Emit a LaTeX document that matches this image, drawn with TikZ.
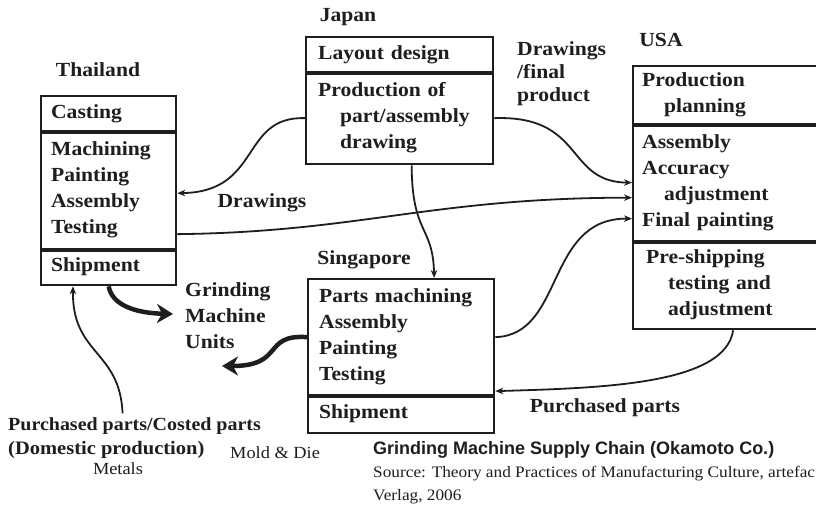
\documentclass[tikz,border=0pt]{standalone}
\usepackage{fontspec}
\setmainfont{Liberation Serif}[FakeStretch=1.08]
\newfontfamily\titlesans{Liberation Sans}
\usetikzlibrary{arrows.meta}
\definecolor{ink}{HTML}{1E1E1E}
\tikzset{
  sec/.style={draw=ink, line width=2.3pt, anchor=north west, inner xsep=10pt, inner ysep=0pt,
    align=left, text=ink, font=\bfseries\fontsize{20}{26}\selectfont},
  divider/.style={draw=ink, line width=3.8pt},
  lbl/.style={text=ink, inner sep=0pt, font=\bfseries\fontsize{20}{26}\selectfont},
  plain/.style={text=ink, inner sep=0pt},
  thinarrow/.style={draw=ink, line width=1.8pt, -{Stealth[length=8pt,width=6.5pt]}},
  thickarrow/.style={draw=ink, line width=4.5pt, -{Stealth[length=16pt,width=19pt,inset=5pt]}}
}
\begin{document}
\begin{tikzpicture}[x=1pt,y=-1pt]
\useasboundingbox (0,0) rectangle (816,513);
\clip (0,0) rectangle (816,513);
\fill[white] (0,0) rectangle (816,513);

% Thailand
\node[sec, text width=115pt, minimum height=35pt] (tcast) at (40,95) {Casting};
\node[sec, text width=115pt, minimum height=118pt] (tmid) at (40,130) {Machining\\Painting\\Assembly\\Testing};
\node[sec, text width=115pt, minimum height=36pt] (tship) at (40,248) {Shipment};
\draw[divider] (tcast.south west) -- (tcast.south east);
\draw[divider] (tmid.south west) -- (tmid.south east);
\node[lbl] (thai) at (98,70) {Thailand};

% Japan
\node[sec, inner xsep=12pt, text width=163pt, minimum height=35pt] (jlay) at (305,36) {Layout design};
\node[sec, inner xsep=12pt, text width=163pt, minimum height=92pt] (jprod) at (305,71) {Production of\\\hspace*{22pt}part/assembly\\\hspace*{22pt}drawing};
\draw[divider] (jlay.south west) -- (jlay.south east);
\node[lbl] (japan) at (348,17) {Japan};

% USA
\node[sec, inner xsep=9pt, text width=182pt, minimum height=58pt] (uplan) at (632,65) {Production\\\hspace*{22pt}planning};
\node[sec, inner xsep=9pt, text width=182pt, minimum height=117pt] (umid) at (632,123) {Assembly\\Accuracy\\\hspace*{22pt}adjustment\\Final painting};
\node[sec, inner xsep=9pt, text width=182pt, minimum height=88pt] (upre) at (632,240) {\hspace*{4pt}Pre-shipping\\\hspace*{26pt}testing and\\\hspace*{26pt}adjustment};
\draw[divider] (uplan.south west) -- (uplan.south east);
\draw[divider] (umid.south west) -- (umid.south east);
\node[lbl] (usa) at (661,40) {USA};

% Singapore
\node[sec, inner xsep=11pt, text width=164pt, minimum height=116pt] (smid) at (307,278) {Parts machining\\Assembly\\Painting\\Testing};
\node[sec, inner xsep=11pt, text width=164pt, minimum height=38pt] (sship) at (307,394) {Shipment};
\draw[divider] (smid.south west) -- (smid.south east);
\node[lbl] (sing) at (364,260) {Singapore};

% labels
\node[lbl, anchor=west, align=left, font=\bfseries\fontsize{20}{23}\selectfont] (dfp) at (517,74) {Drawings\\/final\\product};
\node[lbl] (draw) at (262,203) {Drawings};
\node[lbl, anchor=west, align=left] (gmu) at (185,316) {Grinding\\Machine\\Units};
\node[lbl] (pur) at (605,408) {Purchased parts};
\node[lbl, anchor=west, font=\bfseries\fontsize{18.5}{22}\selectfont] (pp) at (8,426) {Purchased parts/Costed parts};
\node[lbl, anchor=west, font=\bfseries\fontsize{19}{22}\selectfont] (dom) at (8,450) {(Domestic production)};
\node[plain, anchor=west, font=\fontsize{17}{20}\selectfont] (mold) at (230,453) {Mold \& Die};
\node[plain, font=\fontsize{17}{20}\selectfont] (metals) at (118,469) {Metals};
\node[plain, anchor=west, font=\titlesans\bfseries\fontsize{18}{22}\selectfont] (title) at (373,450) {Grinding Machine Supply Chain (Okamoto Co.)};
\node[plain, anchor=west, font=\fontsize{16}{20}\selectfont] (src) at (373,474) {Source: Theory and Practices of Manufacturing Culture, artefac};
\node[plain, anchor=west, font=\fontsize{16}{20}\selectfont] (verlag) at (373,497) {Verlag, 2006};

% coordinates for free ends
\coordinate (gmuend) at ([xshift=-12pt,yshift=2pt]gmu.west);
\coordinate (sgend) at (222,366);

% connectors
\draw[thinarrow] (jprod.west) .. controls (240,116) and (262,192) .. ([yshift=-3pt]tmid.east);
\draw[thinarrow] ([yshift=-44pt]tmid.east) .. controls (360,232) and (430,198) .. ([yshift=-15pt]umid.west);
\draw[thinarrow] ([xshift=12pt]jprod.south) .. controls (412,235) and (433,225) .. ([xshift=33pt]smid.north);
\draw[thinarrow] (jprod.east) .. controls (585,115) and (565,182) .. (umid.west);
\draw[thinarrow] (smid.east) .. controls (565,335) and (545,218) .. ([yshift=-36pt]umid.west);
\draw[thinarrow] (upre.south) .. controls (725,385) and (600,388) .. ([yshift=-54pt]smid.east);
\draw[thinarrow] ([xshift=-12pt,yshift=4pt]pp.north) .. controls (120,350) and (72,355) .. ([xshift=33pt]tship.south west);
\draw[thickarrow] (tship.south) .. controls (112,305) and (135,313) .. (gmuend);
\draw[thickarrow] (smid.west) .. controls (262,334) and (285,366) .. (sgend);
\end{tikzpicture}
\end{document}
